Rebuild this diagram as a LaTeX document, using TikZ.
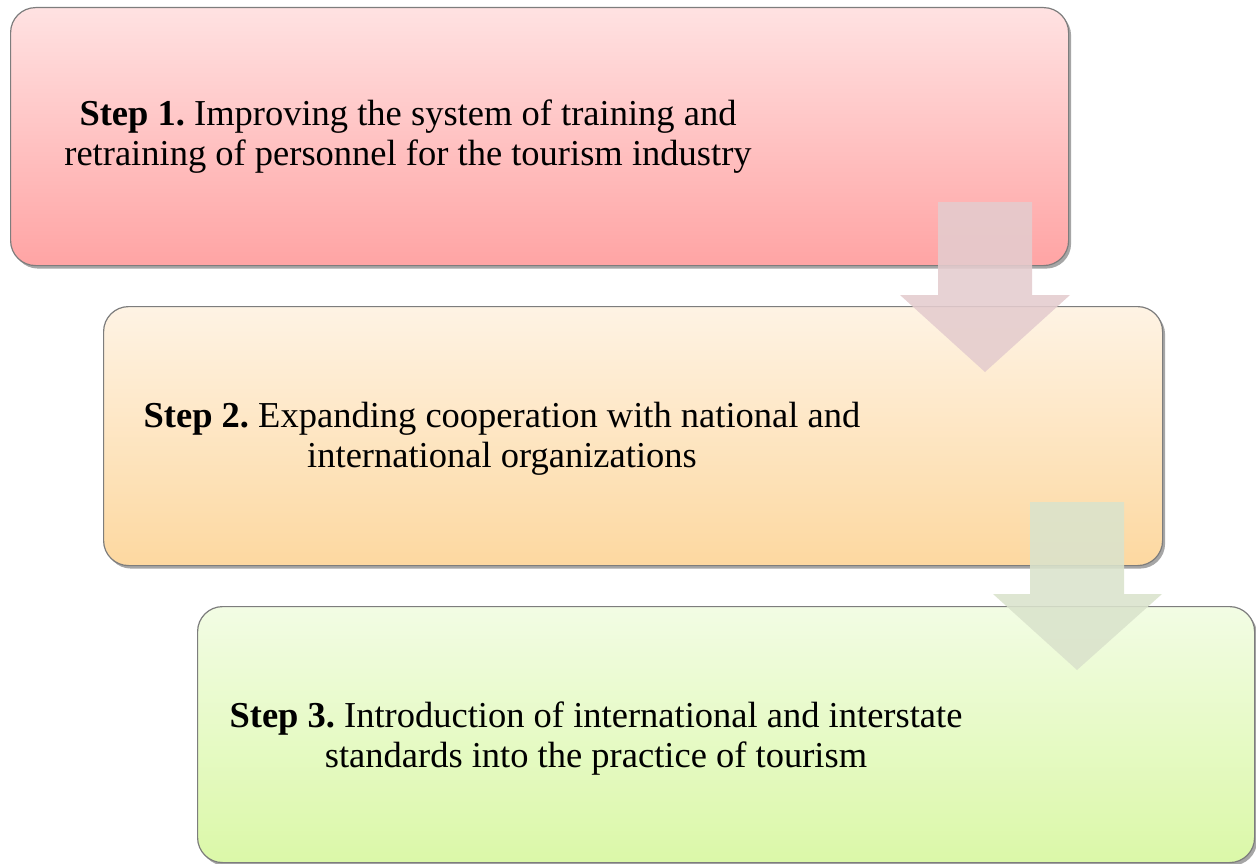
\documentclass[tikz,border=0pt]{standalone}
\usepackage{fontspec}
\setmainfont{Liberation Serif}
\frenchspacing
\usetikzlibrary{shadows}
\definecolor{r1}{RGB}{255,226,226}
\definecolor{r2}{RGB}{255,164,164}
\definecolor{o1}{RGB}{254,243,228}
\definecolor{o2}{RGB}{253,216,160}
\definecolor{g1}{RGB}{242,252,228}
\definecolor{g2}{RGB}{219,248,168}
\definecolor{ar1}{RGB}{228,204,206}
\definecolor{ar2}{RGB}{218,227,204}
\definecolor{edge}{RGB}{125,125,125}
\tikzset{
  stepbox/.style={draw=edge, line width=1.2pt, rounded corners=25pt, anchor=north west,
    inner sep=0pt, drop shadow={shadow xshift=2.5pt, shadow yshift=-3pt, opacity=0.35, fill=black}},
  steptext/.style={align=center, anchor=base, inner sep=0pt,
    font=\fontsize{36.5pt}{40pt}\selectfont},
  downarrow/.style={fill opacity=0.88, draw=none}
}
\begin{document}
\begin{tikzpicture}[x=1pt,y=-1pt]
\useasboundingbox (0,0) rectangle (1256,864);
% boxes
\node[stepbox, top color=r1, bottom color=r2, minimum width=1058pt, minimum height=258pt] (s1) at (10,7) {};
\node[stepbox, top color=o1, bottom color=o2, minimum width=1059pt, minimum height=259pt] (s2) at (103,306) {};
\node[stepbox, top color=g1, bottom color=g2, minimum width=1057pt, minimum height=256pt] (s3) at (197,606) {};
% texts (base anchor = baseline of last line)
\node[steptext] (t1) at (408,166) {\textbf{Step 1.} Improving the system of training and\\retraining of personnel for the tourism industry};
\node[steptext] (t2) at (502,467) {\textbf{Step 2.} Expanding cooperation with national and\\international organizations};
\node[steptext] (t3) at (596,767) {\textbf{Step 3.} Introduction of international and interstate\\standards into the practice of tourism};
% arrows
\coordinate (a1) at (985,372);
\coordinate (a2) at (1077,670);
\fill[ar1, downarrow] (938,202) -- (1032,202) -- (1032,295) -- (1070,295) -- (a1) -- (900,295) -- (938,295) -- cycle;
\fill[ar2, downarrow] (1030,502) -- (1124,502) -- (1124,594) -- (1162,594) -- (a2) -- (993,594) -- (1030,594) -- cycle;
\end{tikzpicture}
\end{document}
